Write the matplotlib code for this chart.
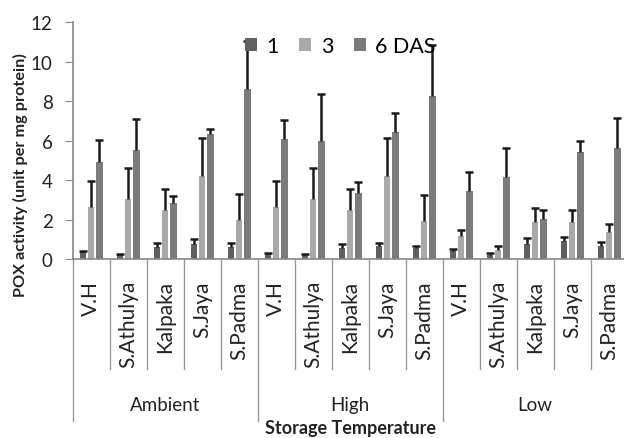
import numpy as np
import matplotlib.pyplot as plt
from matplotlib.transforms import blended_transform_factory

plt.rcParams['font.family'] = ['Lato', 'DejaVu Sans']

varieties = ['V.H', 'S.Athulya', 'Kalpaka', 'S.Jaya', 'S.Padma']
temps = ['Ambient', 'High', 'Low']
series_labels = ['1', '3', '6 DAS']

# POX activity, order: Ambient(5), High(5), Low(5)
day1 = [0.35, 0.2, 0.59, 0.76, 0.62,
        0.25, 0.2, 0.54, 0.64, 0.54,
        0.42, 0.22, 0.76, 0.9, 0.67]
day3 = [2.65, 3.04, 2.5, 4.22, 1.97,
        2.65, 3.04, 2.5, 4.19, 1.94,
        1.18, 0.47, 1.86, 1.89, 1.38]
day6 = [4.9, 5.53, 2.84, 6.36, 8.64,
        6.08, 5.99, 3.34, 6.46, 8.27,
        3.43, 4.14, 2.03, 5.4, 5.65]
err1 = [0.08, 0.05, 0.22, 0.27, 0.19,
        0.05, 0.03, 0.22, 0.15, 0.13,
        0.09, 0.07, 0.29, 0.2, 0.21]
err3 = [1.31, 1.57, 1.05, 1.9, 1.3,
        1.31, 1.57, 1.04, 1.94, 1.32,
        0.3, 0.2, 0.72, 0.59, 0.41]
err6 = [1.14, 1.56, 0.35, 0.21, 2.43,
        0.96, 2.36, 0.57, 0.95, 2.58,
        0.96, 1.51, 0.47, 0.56, 1.49]

colors = ['#606060', '#a9a9a9', '#7b7b7b']

fig = plt.figure(figsize=[6.24, 4.39], dpi=100)
ax = fig.add_axes([72.7/624, 1-260/439, 555/624, 236.7/439])

x = np.arange(15)
w = 0.175
step = 0.22
for k, (vals, errs) in enumerate(zip([day1, day3, day6], [err1, err3, err6])):
    pos = x + (k-1)*step
    vals = np.array(vals)
    tops = vals + np.array(errs)
    ax.bar(pos, vals, width=w, color=colors[k], label=series_labels[k], zorder=2)
    # upper error bars only
    ax.vlines(pos, vals, tops, color='#1a1a1a', lw=1.8, zorder=3)
    ax.plot(pos, tops, ls='none', marker='_', markersize=6, mew=1.8,
            color='#1a1a1a', zorder=3)

ax.set_xlim(-0.5, 14.5)
ax.set_ylim(0, 12)
ax.set_yticks(range(0, 13, 2))
ax.tick_params(axis='y', labelsize=13.5, length=5.5, pad=9, color='#888888',
               labelcolor='#222222')
ax.tick_params(axis='x', bottom=False, labelbottom=False)
for s in ['top', 'right']:
    ax.spines[s].set_visible(False)
for s in ['left', 'bottom']:
    ax.spines[s].set_color('#888888')
    ax.spines[s].set_linewidth(1.2)

tr = blended_transform_factory(ax.transData, ax.transAxes)
for i in range(15):
    ax.text(i, -0.089, varieties[i % 5], rotation=90, ha='center', va='top',
            fontsize=15, color='#222222', transform=tr)
for i in range(16):
    if i % 5 == 0:
        y0 = -0.684
    else:
        y0 = -0.465
    ax.plot([i-0.5, i-0.5], [0, y0], color='#999999', lw=1, transform=tr, clip_on=False)
for g, t in enumerate(temps):
    ax.text(g*5+2, -0.613, t, ha='center', va='center', fontsize=13.5,
            color='#222222', transform=tr)

ax.text(0.501, -0.748, 'Storage Temperature', ha='center', va='bottom', fontsize=13,
        fontweight='bold', color='#222222', transform=ax.transAxes)
fig.text(20/624, 1-175/439, 'POX activity (unit per mg protein)', rotation=90,
         ha='center', va='center', fontsize=11.7, fontweight='bold', color='#222222')

ax.legend(loc='center', bbox_to_anchor=(0.482, 0.9), ncol=3, frameon=False,
          fontsize=15.5, handlelength=0.55, handleheight=0.55, handletextpad=0.45,
          columnspacing=0.95)

plt.savefig('out.png', dpi=100)
